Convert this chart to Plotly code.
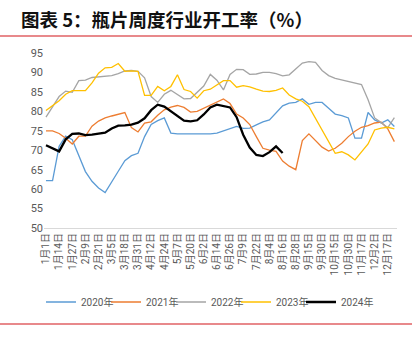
import plotly.graph_objects as go

dates = ["1月1日", "1月7日", "1月14日", "1月20日", "1月27日", "2月3日", "2月9日", "2月15日",
         "2月21日", "2月27日", "3月5日", "3月11日", "3月18日", "3月24日", "3月31日", "4月6日",
         "4月12日", "4月18日", "4月24日", "4月30日", "5月7日", "5月13日", "5月20日", "5月26日",
         "6月2日", "6月8日", "6月14日", "6月20日", "6月26日", "7月2日", "7月9日", "7月15日",
         "7月22日", "7月28日", "8月4日", "8月10日", "8月16日", "8月22日", "8月28日", "9月6日",
         "9月15日", "9月22日", "9月30日", "10月8日", "10月15日", "10月22日", "10月30日", "11月8日",
         "11月17日", "11月25日", "12月2日", "12月9日", "12月17日", "12月24日"]
tick_labels = dates[::2]

y2020 = [62.2, 62.2, 71.0, 73.6, 72.7, 68.5, 64.5, 62.0, 60.3, 59.1, 62.0, 64.6, 67.3, 68.6,
         69.2, 73.5, 76.6, 77.6, 78.3, 74.4, 74.2, 74.2, 74.2, 74.2, 74.2, 74.2, 74.4, 75.0,
         75.5, 76.1, 75.6, 75.7, 76.5, 77.3, 77.8, 79.5, 81.4, 82.1, 82.3, 83.2, 81.8, 82.3,
         82.3, 80.8, 79.3, 78.9, 78.3, 73.1, 73.1, 79.7, 77.8, 77.0, 77.8, 76.1]
y2021 = [75.0, 75.0, 74.3, 73.1, 71.6, 73.6, 73.6, 76.2, 77.5, 78.3, 78.8, 79.2, 79.7, 75.8,
         74.7, 77.0, 77.3, 79.0, 80.4, 81.1, 81.5, 81.0, 79.8, 80.0, 80.8, 81.6, 82.4, 83.2,
         82.0, 79.3, 78.3, 76.6, 73.5, 70.5, 70.0, 69.7, 67.2, 65.9, 65.0, 72.5, 74.2, 72.5,
         70.8, 69.8, 70.5, 71.8, 73.5, 74.9, 75.9, 76.3, 77.0, 77.2, 75.5, 72.2]
y2022 = [78.5, 81.0, 83.8, 85.2, 84.9, 87.9, 88.0, 88.7, 88.9, 89.0, 89.2, 89.7, 90.4, 90.5,
         90.3, 88.6, 83.8, 82.3, 84.4, 85.4, 84.4, 83.2, 83.3, 84.9, 86.5, 89.5, 88.0, 85.5,
         89.5, 90.8, 90.7, 89.5, 89.6, 90.0, 90.0, 89.7, 89.1, 89.4, 90.8, 92.4, 92.8, 92.6,
         90.5, 89.2, 88.5, 88.1, 87.7, 87.4, 86.9, 83.0, 78.3, 77.1, 75.8, 78.4]
y2023 = [80.2, 81.5, 82.7, 84.4, 85.3, 85.3, 85.3, 87.3, 89.8, 91.2, 91.3, 92.3, 90.3, 90.4,
         90.3, 84.1, 84.1, 86.4, 85.3, 86.4, 89.4, 85.6, 85.1, 83.4, 85.3, 85.7, 86.8, 87.9,
         87.9, 86.2, 86.6, 86.3, 85.7, 85.2, 85.1, 85.4, 86.0, 84.2, 83.2, 82.6, 81.2, 78.2,
         75.2, 72.3, 69.2, 69.6, 68.8, 67.5, 69.5, 71.6, 75.2, 75.7, 75.9, 75.5]
y2024 = [71.3, 70.5, 69.7, 72.8, 74.2, 74.3, 73.9, 74.0, 74.2, 74.5, 75.6, 76.3, 76.4, 76.6,
         77.1, 78.2, 80.3, 81.7, 81.2, 80.0, 79.0, 77.6, 77.4, 77.7, 79.2, 81.0, 81.7, 81.4,
         81.0, 78.5, 74.0, 70.7, 68.8, 68.5, 69.5, 71.0, 69.3]

series = [
    ("2020年", y2020, "#5B9BD5", 1.3),
    ("2021年", y2021, "#ED7D31", 1.3),
    ("2022年", y2022, "#A5A5A5", 1.3),
    ("2023年", y2023, "#FFC000", 1.3),
    ("2024年", y2024, "#000000", 2.3),
]

W, H = 419, 341
L, R, T, B = 44, 22, 53, 113
pw, ph = W - L - R, H - T - B

def px_to_paper_x(px):
    return (px - L) / pw

def py_to_paper_y(py):
    return (H - B - py) / ph

font_main = "Roboto, Noto Sans CJK SC, sans-serif"

fig = go.Figure()
legend_layouts = {}
for k, (name, ys, color, width) in enumerate(series):
    lg = "legend" if k == 0 else f"legend{k + 1}"
    fig.add_trace(go.Scatter(x=dates[:len(ys)], y=ys, name=name, mode="lines",
                             line=dict(color=color, width=width), legend=lg))
    legend_layouts[lg] = dict(
        orientation="h", x=px_to_paper_x(41 + 65 * k), xanchor="left",
        y=py_to_paper_y(302), yanchor="middle",
        font=dict(size=10, color="#595959", family=font_main),
        itemwidth=30, bgcolor="rgba(0,0,0,0)")

fig.update_layout(
    width=W, height=H,
    margin=dict(l=L, r=R, t=T, b=B),
    paper_bgcolor="white", plot_bgcolor="white",
    font=dict(family=font_main, color="#595959", size=10),
    title=dict(text="<b>图表 5：瓶片周度行业开工率（%）</b>",
               font=dict(family="Noto Sans CJK SC", size=18.5, color="#111111"),
               xref="container", yref="container",
               x=21 / W, xanchor="left", y=1 - 21 / H, yanchor="middle"),
    showlegend=True,
    xaxis=dict(type="category", categoryorder="array", categoryarray=dates,
               range=[-0.3, len(dates) - 0.6],
               tickmode="array", tickvals=tick_labels, ticktext=tick_labels,
               tickangle=-90, tickfont=dict(size=10, color="#595959"),
               showgrid=False, zeroline=False, showline=True, linecolor="#D9D9D9",
               linewidth=1, ticks=""),
    yaxis=dict(range=[50, 95], tickmode="array", tickvals=list(range(50, 96, 5)),
               tickfont=dict(size=11, color="#595959"), showgrid=False,
               zeroline=False, showline=False, ticks=""),
    shapes=[
        dict(type="line", xref="paper", yref="paper",
             x0=px_to_paper_x(0), x1=px_to_paper_x(412),
             y0=py_to_paper_y(36), y1=py_to_paper_y(36),
             line=dict(color="#E8898B", width=2)),
        dict(type="line", xref="paper", yref="paper",
             x0=px_to_paper_x(0), x1=px_to_paper_x(412),
             y0=py_to_paper_y(324), y1=py_to_paper_y(324),
             line=dict(color="#E8898B", width=2)),
    ],
    **legend_layouts,
)

fig.write_html("out.html")
